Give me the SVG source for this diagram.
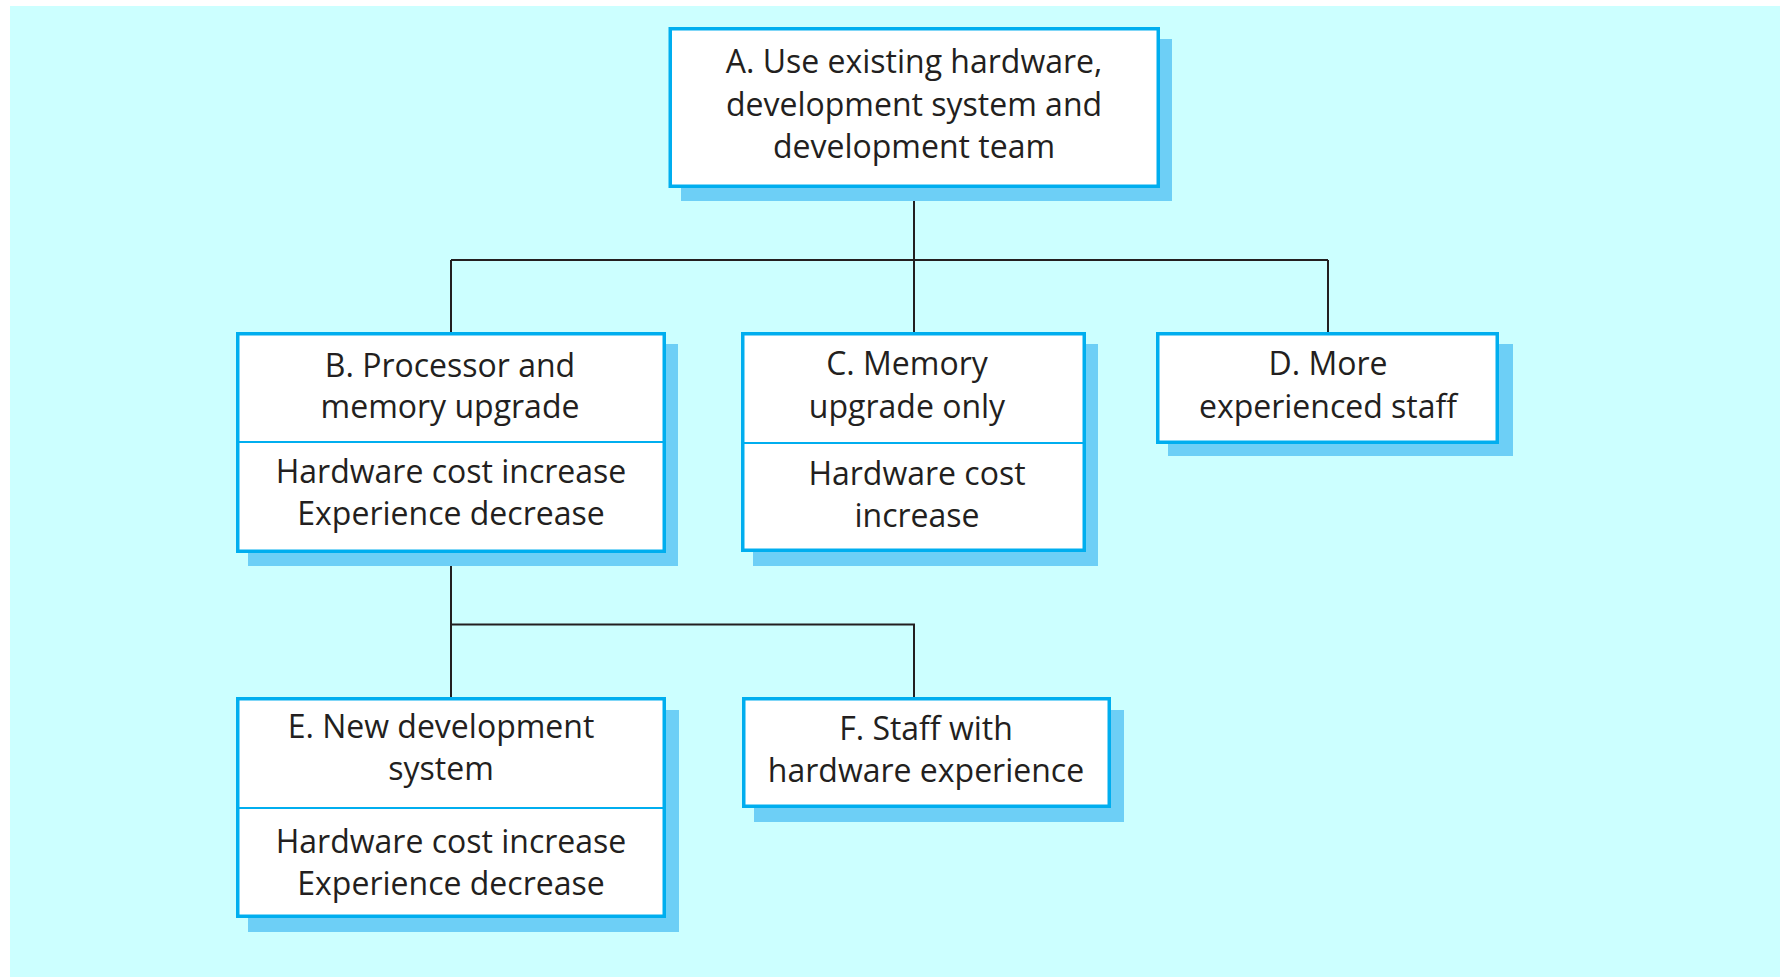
<svg xmlns="http://www.w3.org/2000/svg" width="1780" height="977" viewBox="0 0 1780 977">
<style>
.bg{fill:#CCFFFF}
.sh{fill:#6DCFF6}
.bx{fill:#FFFFFF;stroke:#00AEEF;stroke-width:3.5}
.dv{stroke:#00AEEF;stroke-width:1.8}
.cn{stroke:#231F20;stroke-width:2;fill:none}
text{font-family:"Open Sans","Noto Sans","Liberation Sans",sans-serif;font-size:32px;fill:#231F20;text-anchor:middle}
</style>
<rect x="0" y="0" width="1780" height="977" fill="#FFFFFF"/>
<rect class="bg" x="10" y="6" width="1770" height="971"/>
<g id="connectors">
<path class="cn" d="M914 188V260M451 260H1328M451 260V332M914 260V332M1328 260V332"/>
<path class="cn" d="M451 553V624.5H914V697M451 624.5V697"/>
</g>
<g id="A">
<rect class="sh" x="681" y="39" width="491" height="162"/>
<rect class="bx" x="670.25" y="28.75" width="488" height="157.5"/>
<text x="914" y="73">A. Use existing hardware,</text>
<text x="914" y="116">development system and</text>
<text x="914" y="158">development team</text>
</g>
<g id="B">
<rect class="sh" x="248" y="344" width="430" height="222"/>
<rect class="bx" x="237.75" y="333.75" width="426.5" height="217.5"/>
<line class="dv" x1="238" y1="442" x2="664" y2="442"/>
<text x="450" y="377">B. Processor and</text>
<text x="450" y="418">memory upgrade</text>
<text x="451" y="483">Hardware cost increase</text>
<text x="451" y="525">Experience decrease</text>
</g>
<g id="C">
<rect class="sh" x="753" y="344" width="345" height="222"/>
<rect class="bx" x="742.75" y="333.75" width="341.5" height="216.5"/>
<line class="dv" x1="743" y1="443" x2="1084" y2="443"/>
<text x="907" y="375">C. Memory</text>
<text x="907" y="418">upgrade only</text>
<text x="917" y="485">Hardware cost</text>
<text x="917" y="527">increase</text>
</g>
<g id="D">
<rect class="sh" x="1168" y="344" width="345" height="112"/>
<rect class="bx" x="1157.75" y="333.75" width="339.5" height="108.5"/>
<text x="1328" y="375">D. More</text>
<text x="1328" y="418">experienced staff</text>
</g>
<g id="E">
<rect class="sh" x="248" y="710" width="431" height="222"/>
<rect class="bx" x="237.75" y="698.75" width="426.5" height="217.5"/>
<line class="dv" x1="238" y1="808" x2="664" y2="808"/>
<text x="441" y="738">E. New development</text>
<text x="441" y="780">system</text>
<text x="451" y="853">Hardware cost increase</text>
<text x="451" y="895">Experience decrease</text>
</g>
<g id="F">
<rect class="sh" x="754" y="710" width="370" height="112"/>
<rect class="bx" x="743.75" y="698.75" width="365.5" height="107.5"/>
<text x="926" y="740">F. Staff with</text>
<text x="926" y="782">hardware experience</text>
</g>
</svg>
